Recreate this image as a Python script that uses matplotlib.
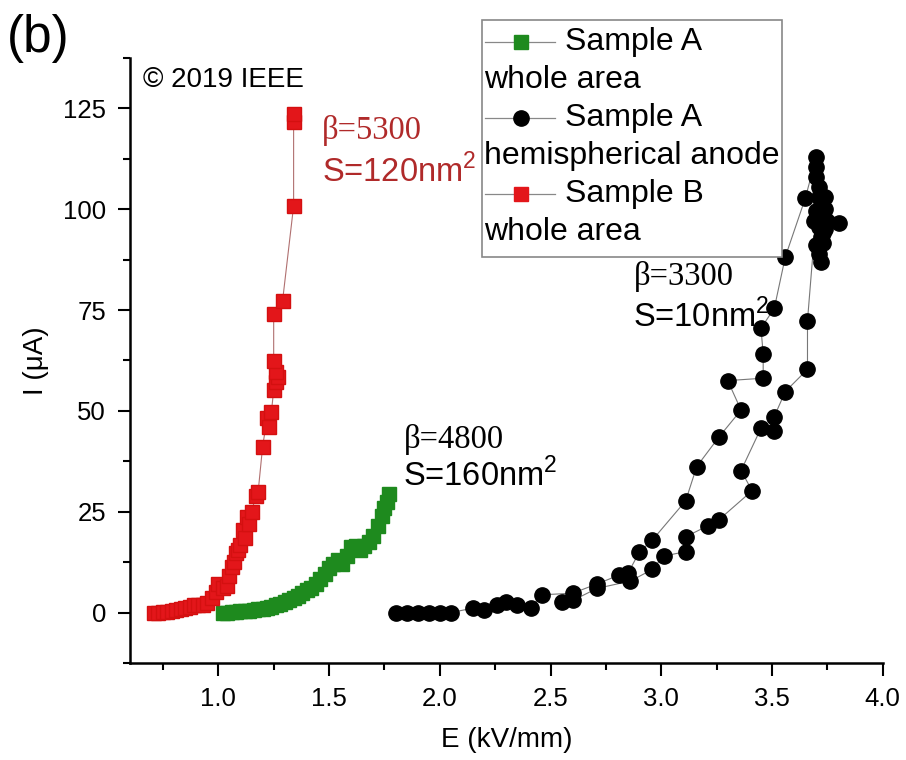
import matplotlib
matplotlib.use("Agg")
import matplotlib.pyplot as plt
from matplotlib.lines import Line2D
from matplotlib.patches import Rectangle
from matplotlib.ticker import MultipleLocator, FormatStrFormatter

plt.rcParams['font.family'] = ['Liberation Sans', 'DejaVu Sans']
plt.rcParams['mathtext.fontset'] = 'custom'
plt.rcParams['mathtext.rm'] = 'Liberation Sans'

# --- data ---
# Sample B, whole area (red squares)
red_E = [0.71, 0.73, 0.75, 0.77, 0.79, 0.81, 0.83, 0.85, 0.87, 0.89, 0.91, 0.93, 0.95, 0.97,
         0.99, 1.00, 1.02, 1.04, 1.05, 1.06, 1.07, 1.08, 1.09, 1.10, 1.11, 1.12, 1.13, 1.14,
         1.15, 1.17, 1.18, 1.20, 1.22, 1.23, 1.24, 1.25, 1.26, 1.27, 1.26, 1.25, 1.25, 1.29,
         1.34, 1.34, 1.34]
red_I = [0.0, 0.0, 0.1, 0.2, 0.4, 0.6, 0.8, 1.2, 1.5, 1.8, 2.0, 2.0, 2.4, 3.5,
         5.0, 7.0, 6.0, 6.5, 9.0, 11.4, 12.5, 14.8, 15.5, 16.8, 20.5, 18.5, 23.8, 22.0,
         25.0, 29.0, 30.0, 41.1, 48.2, 46.0, 49.8, 55.2, 57.2, 58.4, 59.7, 62.4, 74.0, 77.2,
         100.8, 121.5, 123.5]

# Sample A, whole area (green squares)
green_E = [1.02, 1.04, 1.06, 1.08, 1.10, 1.12, 1.14, 1.16, 1.18, 1.20, 1.22, 1.24, 1.26, 1.28,
           1.30, 1.32, 1.34, 1.36, 1.38, 1.40, 1.42, 1.44, 1.46, 1.48, 1.50, 1.52, 1.54, 1.56,
           1.58, 1.60, 1.62, 1.64, 1.66, 1.68, 1.70, 1.72, 1.74, 1.75, 1.76, 1.77]
green_I = [0.0, 0.0, 0.1, 0.2, 0.3, 0.4, 0.5, 0.6, 0.8, 1.0, 1.2, 1.4, 1.8, 2.2,
           2.6, 3.1, 3.6, 4.2, 4.8, 5.5, 6.2, 7.2, 8.2, 9.5, 11.0, 12.0, 13.0, 12.0,
           14.0, 16.3, 16.5, 15.5, 16.5, 17.5, 19.0, 21.5, 24.0, 26.0, 27.5, 29.5]

# Sample A, hemispherical anode (black circles): up sweep, top cluster, down sweep
black_E = [1.80, 1.85, 1.90, 1.95, 2.00, 2.05, 2.15, 2.20, 2.26, 2.30, 2.35, 2.41,
           2.46, 2.60, 2.71, 2.81, 2.85, 2.90, 2.96, 3.11, 3.16, 3.26, 3.36, 3.30,
           3.46, 3.46, 3.45, 3.51, 3.56, 3.65,
           3.70, 3.70, 3.70, 3.71, 3.71, 3.72, 3.69, 3.74, 3.73, 3.75, 3.80, 3.74,
           3.72, 3.70, 3.71, 3.72, 3.74, 3.73, 3.72, 3.71, 3.73, 3.70,
           3.66, 3.66, 3.56, 3.51, 3.51, 3.45, 3.36, 3.41, 3.26, 3.21, 3.11, 3.11,
           3.01, 2.96, 2.86, 2.71, 2.60, 2.55]
black_I = [0.0, 0.0, 0.0, 0.0, 0.0, 0.0, 1.1, 0.7, 1.9, 2.5, 1.9, 1.1,
           4.4, 4.8, 7.1, 9.3, 9.8, 14.9, 18.0, 27.7, 36.2, 43.5, 50.2, 57.5,
           58.1, 64.1, 70.5, 75.4, 88.2, 102.7,
           113.0, 110.5, 108.0, 105.5, 103.0, 101.0, 97.0, 103.0, 99.0, 97.0, 96.6, 95.0,
           93.0, 91.0, 89.0, 87.0, 100.0, 94.0, 98.0, 95.5, 91.5, 99.5,
           72.4, 60.3, 54.8, 48.6, 44.9, 45.7, 35.2, 30.2, 23.0, 21.5, 18.8, 15.1,
           14.0, 10.7, 7.8, 6.0, 3.0, 2.7]

x_ticks = [1.0, 1.5, 2.0, 2.5, 3.0, 3.5, 4.0]
y_ticks = [0, 25, 50, 75, 100, 125]

RED = '#e3161a'
GREEN = '#1e8a1e'
TXT_RED = '#b02a2a'

W, H = 906, 760


def fx(px):
    return px / W


def fy(py):
    return 1 - py / H


fig = plt.figure(figsize=(W / 100, H / 100), dpi=100)
ax = fig.add_axes([fx(129.7), fy(663), 753.1 / W, 605.1 / H])

ax.plot(green_E, green_I, color='#6f9a6f', lw=0.8, marker='s', ms=9.5,
        mfc=GREEN, mec=GREEN, zorder=3)
ax.plot(red_E, red_I, color='#b07070', lw=0.8, marker='s', ms=9.5,
        mfc=RED, mec='#d41010', zorder=4)
ax.plot(black_E, black_I, color='#777777', lw=0.8, marker='o', ms=11,
        mfc='black', mec='black', zorder=5)

ax.set_xlim(0.6, 4.0)
ax.set_ylim(-12.5, 137.5)
ax.set_xticks(x_ticks)
ax.set_yticks(y_ticks)
ax.xaxis.set_minor_locator(MultipleLocator(0.25))
ax.yaxis.set_minor_locator(MultipleLocator(12.5))
ax.xaxis.set_major_formatter(FormatStrFormatter('%.1f'))
ax.tick_params(which='major', direction='out', length=9, width=1.5, labelsize=18.5, pad=8)
ax.tick_params(which='minor', direction='out', length=5, width=1.5)
for side in ['top', 'right']:
    ax.spines[side].set_visible(False)
for side in ['left', 'bottom']:
    ax.spines[side].set_linewidth(1.8)

ax.set_xlabel('E (kV/mm)', fontsize=20, labelpad=12)
ax.set_ylabel('I (μA)', fontsize=20, labelpad=10)

# annotations
ax.text(1.467, 119.5, 'β=5300', family='Liberation Serif', fontsize=23.5,
        color=TXT_RED, va='center')
ax.text(1.467, 109.3, 'S=120nm$^{2}$', fontsize=23.5, color=TXT_RED, va='center')
ax.text(1.836, 42.8, 'β=4800', family='Liberation Serif', fontsize=23.5, va='center')
ax.text(1.836, 34.1, 'S=160nm$^{2}$', fontsize=23.5, va='center')
ax.text(2.874, 83.3, 'β=3300', family='Liberation Serif', fontsize=23.5, va='center')
ax.text(2.874, 73.4, 'S=10nm$^{2}$', fontsize=23.5, va='center')

ax.text(0.018, 0.963, '© 2019 IEEE', transform=ax.transAxes, fontsize=20, va='center')
fig.text(0.008, 0.982, '(b)', fontsize=37, va='top')

# legend drawn by hand (two-line labels start under the handle)
fig.add_artist(Rectangle((fx(481.7), fy(256.7)), fx(781.7) - fx(481.7), fy(20) - fy(256.7),
                         transform=fig.transFigure, fill=True, facecolor='white',
                         edgecolor='#888888', lw=1.2, zorder=6))
entries = [
    (42, 's', GREEN, 9.5, 'Sample A', 'whole area'),
    (118, 'o', 'black', 11, 'Sample A', 'hemispherical anode'),
    (194, 's', RED, 9.5, 'Sample B', 'whole area'),
]
for py, mk, col, ms, first, second in entries:
    fig.add_artist(Line2D([fx(485), fx(555)], [fy(py), fy(py)], transform=fig.transFigure,
                          color='#888888', lw=0.9, zorder=7))
    fig.add_artist(Line2D([fx(521)], [fy(py)], transform=fig.transFigure, marker=mk,
                          ms=ms, mfc=col, mec=col, ls='none', zorder=8))
    fig.text(fx(565), fy(py), first, fontsize=23, va='center', zorder=8)
    fig.text(fx(484), fy(py + 38), second, fontsize=23, va='center', zorder=8)

fig.savefig('out.png', dpi=100)
